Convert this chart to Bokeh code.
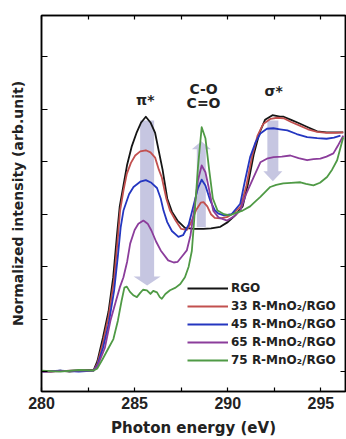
from bokeh.plotting import figure
from bokeh.models import (FixedTicker, LinearAxis, Legend, LegendItem, Label,
                          Range1d)
from bokeh.embed import file_html
from bokeh.resources import INLINE

# ---------------- data ----------------
rgo_x = [280.0, 280.5, 281.0, 281.5, 282.0, 282.5, 282.8, 283.0, 283.3, 283.6, 283.85,
         284.05, 284.2, 284.4, 284.6, 284.85, 285.1, 285.35, 285.6, 285.85, 286.1, 286.3,
         286.5, 286.75, 287.0, 287.3, 287.7, 288.2, 288.7, 289.1, 289.6, 290.0, 290.4,
         290.8, 291.1, 291.4, 291.7, 292.0, 292.4, 292.8, 293.0, 293.4, 293.8, 294.3,
         294.8, 295.3, 295.8, 296.2]
rgo_y = [0.01, 0.0, 0.02, 0.0, 0.02, 0.03, 0.03, 0.2, 0.65, 1.15, 1.8,
         2.6, 3.15, 3.55, 3.95, 4.3, 4.55, 4.75, 4.86, 4.75, 4.55, 4.2,
         3.85, 3.3, 3.05, 2.88, 2.74, 2.72, 2.72, 2.73, 2.76, 2.85, 2.98,
         3.15, 3.6, 4.15, 4.55, 4.8, 4.89, 4.86, 4.86, 4.8, 4.74, 4.66,
         4.58, 4.56, 4.56, 4.56]

r33_x = [280.0, 281.0, 282.0, 282.8, 283.0, 283.3, 283.6, 283.9, 284.1, 284.22, 284.4,
         284.58, 284.8, 285.03, 285.3, 285.6, 285.85, 286.1, 286.3, 286.46, 286.7, 286.9,
         287.2, 287.5, 287.8, 288.0, 288.3, 288.55, 288.7, 288.9, 289.1, 289.3, 289.6,
         290.0, 290.4, 290.7, 291.0, 291.3, 291.6, 291.9, 292.3, 292.65, 293.0, 293.4,
         293.8, 294.3, 294.8, 295.3, 295.8, 296.2]
r33_y = [0.0, 0.01, 0.02, 0.02, 0.15, 0.55, 1.05, 1.75, 2.55, 3.07, 3.45,
         3.77, 3.98, 4.12, 4.2, 4.22, 4.18, 4.08, 3.85, 3.7, 3.3, 3.07,
         2.88, 2.72, 2.7, 2.82, 3.08, 3.22, 3.23, 3.15, 3.0, 2.93, 2.92,
         2.95, 3.05, 3.15, 3.55, 4.1, 4.5, 4.72, 4.82, 4.84, 4.83, 4.76,
         4.7, 4.62, 4.57, 4.55, 4.55, 4.56]

r45_x = [280.0, 281.0, 282.0, 282.8, 283.0, 283.3, 283.6, 283.9, 284.1, 284.25, 284.4,
         284.7, 284.94, 285.3, 285.6, 285.9, 286.2, 286.4, 286.55, 286.75, 287.0, 287.35,
         287.6, 287.9, 288.15, 288.4, 288.6, 288.8, 289.06, 289.3, 289.5, 289.8, 290.2,
         290.67, 290.9, 291.2, 291.5, 291.75, 292.1, 292.45, 292.8, 293.2, 293.7, 294.26,
         294.8, 295.3, 295.7, 296.05]
r45_y = [0.0, 0.02, 0.0, 0.02, 0.12, 0.45, 0.9, 1.55, 2.2, 2.75, 3.07,
         3.38, 3.52, 3.62, 3.65, 3.6, 3.5, 3.3, 3.07, 2.85, 2.68, 2.57,
         2.6, 2.8, 3.15, 3.5, 3.66, 3.55, 3.26, 3.08, 3.01, 2.98, 3.0,
         3.2, 3.6, 4.09, 4.38, 4.54, 4.63, 4.64, 4.62, 4.6, 4.53, 4.47,
         4.45, 4.44, 4.46, 4.5]

r65_x = [280.0, 281.0, 282.0, 282.8, 283.0, 283.4, 283.7, 284.0, 284.2, 284.4, 284.6,
         284.76, 285.0, 285.2, 285.47, 285.7, 285.9, 286.15, 286.4, 286.8, 287.1, 287.3,
         287.55, 287.8, 288.0, 288.2, 288.4, 288.6, 288.8, 288.97, 289.22, 289.5, 289.96,
         290.3, 290.67, 291.0, 291.39, 291.75, 292.1, 292.46, 292.9, 293.36, 293.8, 294.26,
         294.6, 294.97, 295.3, 295.67, 295.9, 296.2]
r65_y = [0.0, 0.01, 0.02, 0.02, 0.1, 0.45, 0.97, 1.35, 1.6, 1.8, 2.1,
         2.44, 2.7, 2.82, 2.88, 2.82, 2.69, 2.48, 2.31, 2.12, 2.08, 2.09,
         2.2, 2.31, 2.6, 3.1, 3.65, 3.93, 3.8, 3.52, 3.07, 2.94, 2.88,
         2.95, 3.07, 3.4, 3.71, 3.99, 4.06, 4.09, 4.1, 4.12, 4.07, 4.03,
         4.05, 4.06, 4.1, 4.16, 4.3, 4.5]

r75_x = [280.0, 281.0, 282.0, 282.8, 283.0, 283.3, 283.6, 283.86, 284.1, 284.3, 284.45,
         284.58, 284.75, 284.95, 285.12, 285.3, 285.45, 285.66, 285.85, 286.0, 286.2, 286.35,
         286.46, 286.65, 286.9, 287.2, 287.45, 287.7, 287.9, 288.07, 288.2, 288.4, 288.6,
         288.8, 289.0, 289.2, 289.45, 289.8, 290.1, 290.4, 290.8, 291.2, 291.5, 291.75,
         292.0, 292.28, 292.6, 292.98, 293.4, 293.9, 294.2, 294.6, 294.95, 295.33, 295.6,
         295.87, 296.2]
r75_y = [0.02, 0.0, 0.03, 0.02, 0.06, 0.25, 0.45, 0.62, 0.97, 1.35, 1.6,
         1.62, 1.52, 1.45, 1.42, 1.5, 1.56, 1.55, 1.48, 1.54, 1.51, 1.42,
         1.39, 1.48, 1.55, 1.6, 1.67, 1.8, 2.0, 2.3, 2.9, 3.9, 4.66,
         4.45, 3.85, 3.3, 3.07, 3.0, 2.98, 3.02, 3.07, 3.15, 3.25, 3.33,
         3.42, 3.52, 3.56, 3.59, 3.6, 3.61, 3.58, 3.55, 3.6, 3.71, 3.85,
         4.03, 4.47]

series_names = ["RGO", "33 R-MnO\u2082/RGO", "45 R-MnO\u2082/RGO",
                "65 R-MnO\u2082/RGO", "75 R-MnO\u2082/RGO"]
series_x = [rgo_x, r33_x, r45_x, r65_x, r75_x]
series_y = [rgo_y, r33_y, r45_y, r65_y, r75_y]
series_colors = ["#151515", "#c2504f", "#2436c0", "#8b3d9b", "#4f9a45"]

x_ticks = [280, 285, 290, 295]
x_minor = [282.5, 287.5, 292.5]
y_ticks = [0, 1, 2, 3, 4, 5, 6]

# shaded arrows (centre x, tail y, tip y)
arrow_x = [285.67, 288.58, 292.42]
arrow_tail = [4.79, 2.75, 4.79]
arrow_tip = [1.64, 4.39, 3.63]
arrow_shaft_px = [14, 9, 11]
arrow_headw_px = [27, 19, 19]
arrow_headl_px = [9, 8, 10]

peak_labels = ["\u03c0*", "C-O", "C=O", "\u03c3*"]
peak_label_x = [285.57, 288.7, 288.7, 292.46]
peak_label_y = [5.17, 5.38, 5.12, 5.35]

# ---------------- figure ----------------
X0, X1 = 280.0, 296.32
Y0, Y1 = -0.38, 6.79
W, H = 346, 439
BL, BR, BT, BB = 41, 1, 15, 48

p = figure(width=W, height=H, output_backend="svg", toolbar_location=None,
           x_range=Range1d(X0, X1), y_range=Range1d(Y0, Y1),
           min_border_left=BL, min_border_right=BR, min_border_top=BT,
           min_border_bottom=BB, background_fill_color="white",
           border_fill_color="white", outline_line_color="black",
           outline_line_width=1.5)
p.grid.visible = False

fw = W - BL - BR
fh = H - BT - BB
sx = fw / (X1 - X0)
sy = fh / (Y1 - Y0)

# arrows (under curves)
axs, ays = [], []
for cx, ty, tip, sw, hw, hl in zip(arrow_x, arrow_tail, arrow_tip,
                                   arrow_shaft_px, arrow_headw_px, arrow_headl_px):
    d = 1 if tip > ty else -1
    s2 = sw / 2 / sx
    h2 = hw / 2 / sx
    base = tip - d * hl / sy
    axs.append([cx - s2, cx - s2, cx - h2, cx, cx + h2, cx + s2, cx + s2])
    ays.append([ty, base, base, tip, base, base, ty])
p.patches(axs, ays, fill_color="#b0b0d6", fill_alpha=0.72, line_color=None)

renderers = []
for xs, ys, c in zip(series_x, series_y, series_colors):
    r = p.line(xs, ys, line_color=c, line_width=1.8, line_join="round")
    renderers.append(r)

FONT = "DejaVu Sans"
TXT = "#222222"

for t, lx, ly in zip(peak_labels, peak_label_x, peak_label_y):
    p.add_layout(Label(x=lx, y=ly, text=t, text_align="center",
                       text_baseline="middle", text_font=FONT,
                       text_font_style="bold", text_font_size="14px",
                       text_color=TXT))

# bottom axis
xa = p.xaxis[0]
xa.ticker = FixedTicker(ticks=x_ticks, minor_ticks=x_minor)
xa.major_tick_in = 4
xa.major_tick_out = 0
xa.minor_tick_in = 4
xa.minor_tick_out = 0
xa.axis_line_width = 1.5
xa.major_tick_line_width = 1.2
xa.minor_tick_line_width = 1.2
xa.major_label_text_font = "Liberation Sans"
xa.major_label_text_font_style = "bold"
xa.major_label_text_font_size = "16px"
xa.major_label_text_color = TXT
xa.major_label_standoff = 5
xa.axis_label = "Photon energy (eV)"
xa.axis_label_text_font = FONT
xa.axis_label_text_font_style = "bold"
xa.axis_label_text_font_size = "15px"
xa.axis_label_text_color = TXT
xa.axis_label_standoff = 7

# left axis
ya = p.yaxis[0]
ya.ticker = FixedTicker(ticks=y_ticks, minor_ticks=[])
ya.major_tick_in = 6
ya.major_tick_out = 0
ya.minor_tick_line_color = None
ya.axis_line_width = 1.5
ya.major_tick_line_width = 1.2
ya.major_label_text_font_size = "0px"
ya.major_label_text_color = None
ya.major_label_standoff = 0
ya.axis_label = "Normalized intensity (arb.unit)"
ya.axis_label_text_font = FONT
ya.axis_label_text_font_style = "bold"
ya.axis_label_text_font_size = "14px"
ya.axis_label_text_color = TXT
ya.axis_label_standoff = 16

# top axis
ta = LinearAxis(ticker=FixedTicker(ticks=x_ticks + x_minor, minor_ticks=[]),
                major_tick_in=4, major_tick_out=0, minor_tick_line_color=None,
                major_label_text_font_size="0px", major_label_text_color=None,
                major_label_standoff=0,
                axis_line_width=1.5, major_tick_line_width=1.2)
p.add_layout(ta, "above")

# right axis
ra = LinearAxis(ticker=FixedTicker(ticks=y_ticks, minor_ticks=[]),
                major_tick_in=5, major_tick_out=0, minor_tick_line_color=None,
                major_label_text_font_size="0px", major_label_text_color=None,
                major_label_standoff=0,
                axis_line_width=1.5, major_tick_line_width=1.2)
p.add_layout(ra, "right")

legend = Legend(items=[LegendItem(label=n, renderers=[r])
                       for n, r in zip(series_names, renderers)],
                location=(146, 24), orientation="vertical",
                label_text_font=FONT, label_text_font_style="bold",
                label_text_font_size="12px", label_text_color=TXT,
                glyph_width=41, glyph_height=14, label_height=14,
                label_standoff=3, spacing=4, padding=0, margin=0,
                border_line_color=None, background_fill_alpha=0)
p.add_layout(legend)

open("out.html", "w").write(file_html(p, INLINE))
